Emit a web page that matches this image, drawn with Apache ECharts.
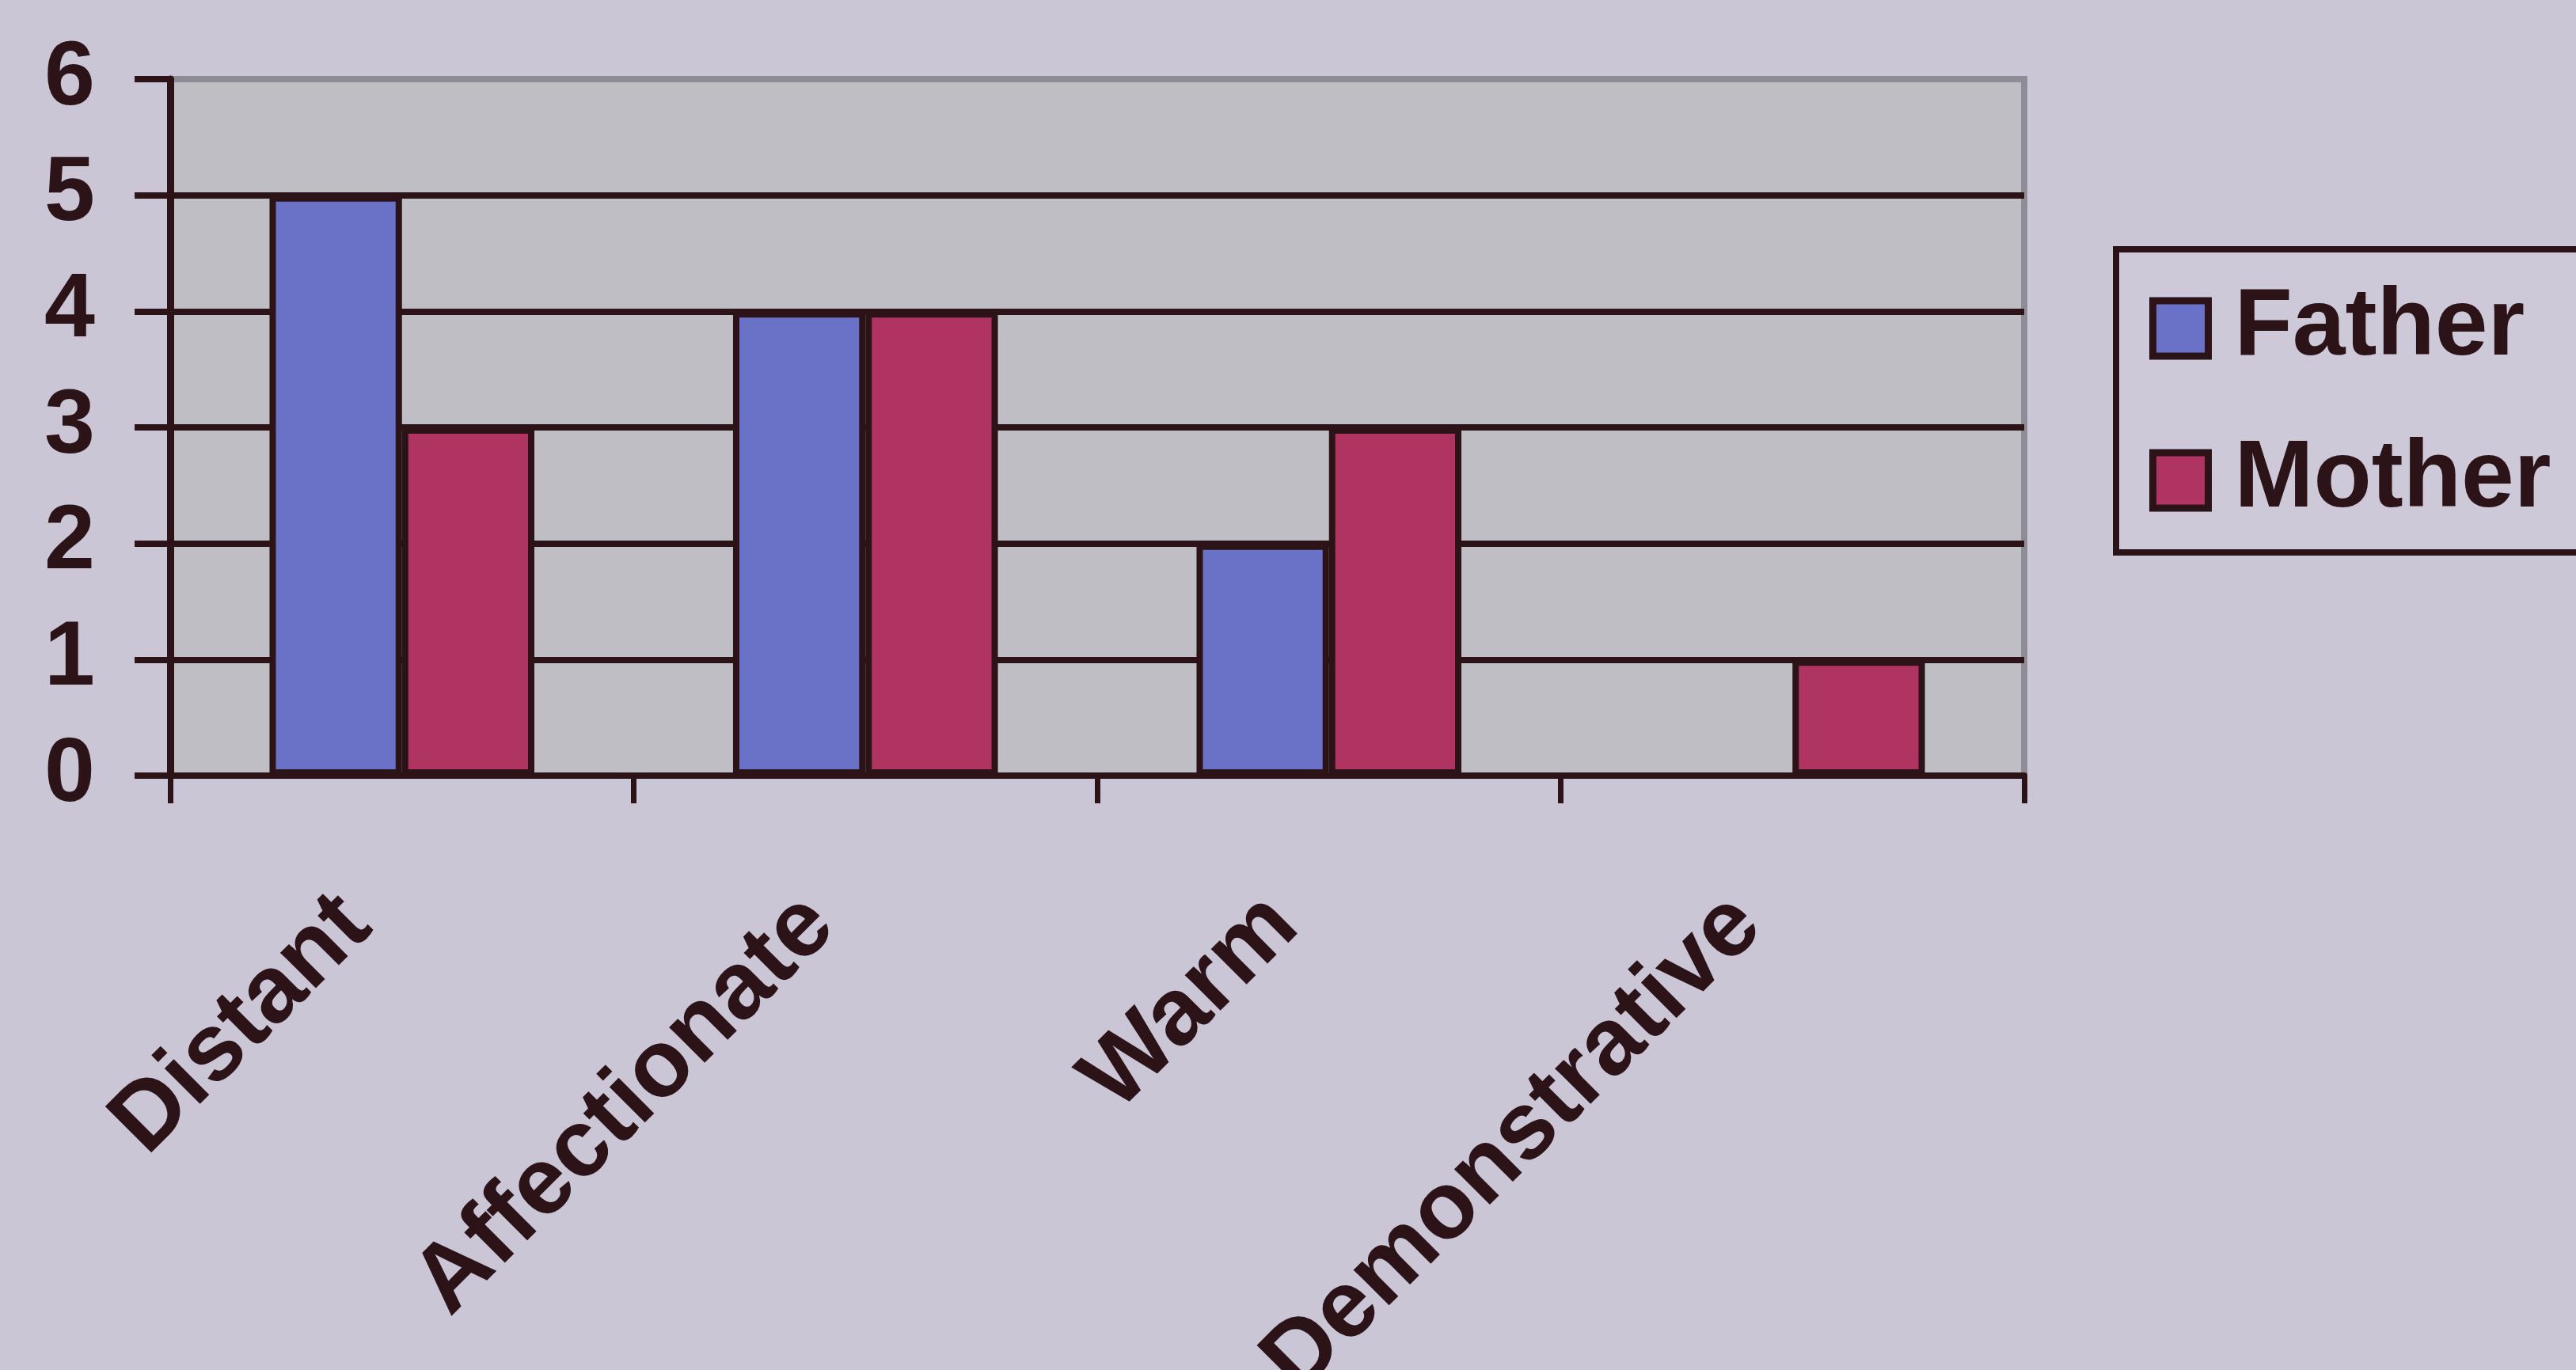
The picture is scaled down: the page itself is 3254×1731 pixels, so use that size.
<!DOCTYPE html>
<html>
<head>
<meta charset="utf-8">
<script src="https://cdn.jsdelivr.net/npm/echarts@6/dist/echarts.min.js"></script>
<style>
html,body{margin:0;padding:0;background:#cbc6d6;}
#c{width:3254px;height:1731px;}
</style>
</head>
<body>
<div id="c"></div>
<script>
const categories = ['Distant', 'Affectionate', 'Warm', 'Demonstrative'];
const fatherValues = [5, 4, 2, 0];
const motherValues = [3, 4, 3, 1];
const seriesNames = ['Father', 'Mother'];

const dark = '#2b1317';
const font = 'Liberation Sans, Arial, Helvetica, sans-serif';
const chart = echarts.init(document.getElementById('c'), null, {renderer: 'canvas'});
chart.setOption({
  backgroundColor: '#cbc6d6',
  animation: false,
  grid: {
    left: 215, right: 697, top: 100, bottom: 751,
    containLabel: false,
    outerBoundsMode: 'none',
    show: true, backgroundColor: '#c0bec5', borderColor: '#8e8c94', borderWidth: 8
  },
  legend: {
    orient: 'vertical',
    left: 2673, top: 315,
    padding: [40, 120, 31, 42],
    itemGap: 72,
    itemWidth: 70, itemHeight: 70,
    borderColor: dark, borderWidth: 8,
    backgroundColor: '#cdc9d8',
    icon: 'rect',
    itemStyle: {borderColor: dark, borderWidth: 9},
    textStyle: {fontFamily: font, fontWeight: 'bold', fontSize: 120, color: dark, lineHeight: 115, padding: [0, 0, 0, 28]},
    data: seriesNames
  },
  xAxis: {
    type: 'category',
    data: categories,
    axisLine: {lineStyle: {color: dark, width: 8}},
    axisTick: {show: true, length: 35, lineStyle: {color: dark, width: 7}},
    axisLabel: {rotate: 45, margin: 113, padding: [0, 82, 0, 0], fontFamily: font, fontWeight: 'bold', fontSize: 120, color: dark, interval: 0}
  },
  yAxis: {
    type: 'value',
    min: 0, max: 6, interval: 1,
    axisLine: {show: true, lineStyle: {color: dark, width: 9}},
    axisTick: {show: true, length: 45, lineStyle: {color: dark, width: 8}},
    axisLabel: {margin: 95, fontFamily: font, fontWeight: 'bold', fontSize: 115, color: dark},
    splitLine: {show: true, lineStyle: {color: [dark, dark, dark, dark, dark, dark, '#8e8c94'], width: 8}}
  },
  series: [
    {
      name: seriesNames[0], type: 'bar', data: fatherValues,
      barGap: '0%', barCategoryGap: '42.86%',
      itemStyle: {color: '#6a72c8', borderColor: dark, borderWidth: 8}
    },
    {
      name: seriesNames[1], type: 'bar', data: motherValues,
      barGap: '0%', barCategoryGap: '42.86%',
      itemStyle: {color: '#b03461', borderColor: dark, borderWidth: 8}
    }
  ]
});
</script>
</body>
</html>
